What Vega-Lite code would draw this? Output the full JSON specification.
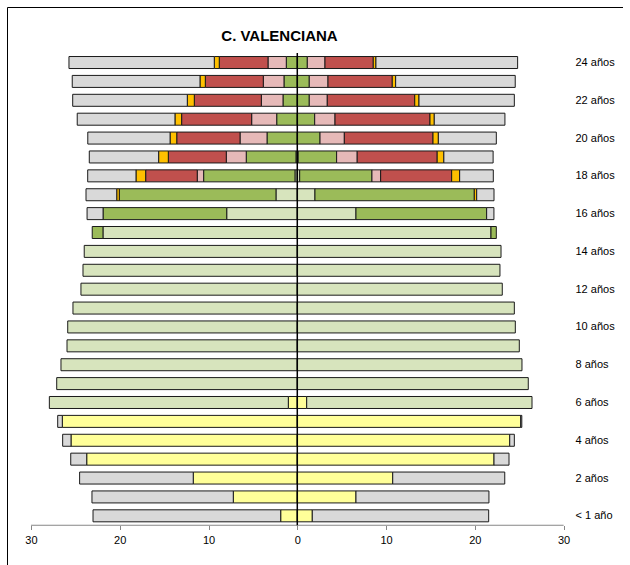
{
  "$schema": "https://vega.github.io/schema/vega-lite/v6.json",
  "usermeta": {"embedOptions": {"actions": false}},
  "width": 616,
  "height": 560,
  "autosize": "none",
  "padding": {"left": 7, "top": 7, "right": 0, "bottom": 0},
  "background": "white",
  "title": {"text": "C. VALENCIANA", "fontSize": 15, "fontWeight": "bold", "font": "Liberation Sans", "color": "#000", "anchor": "middle", "frame": "group", "dx": -35.5, "offset": -49, "baseline": "alphabetic"},
  "config": {"view": {"stroke": "#000", "strokeWidth": 1}, "font": "Liberation Sans"},
  "data": {"values": [
    {"edad": 24, "sexo": "Hombres", "nivel": "ESO", "orden": 3, "valor": -1.24},
    {"edad": 24, "sexo": "Hombres", "nivel": "Bachillerato", "orden": 4, "valor": -2.06},
    {"edad": 24, "sexo": "Hombres", "nivel": "Universidad", "orden": 5, "valor": -5.49},
    {"edad": 24, "sexo": "Hombres", "nivel": "Otros", "orden": 6, "valor": -0.56},
    {"edad": 24, "sexo": "Hombres", "nivel": "No estudia", "orden": 7, "valor": -16.37},
    {"edad": 24, "sexo": "Mujeres", "nivel": "ESO", "orden": 3, "valor": 1.13},
    {"edad": 24, "sexo": "Mujeres", "nivel": "Bachillerato", "orden": 4, "valor": 1.99},
    {"edad": 24, "sexo": "Mujeres", "nivel": "Universidad", "orden": 5, "valor": 5.44},
    {"edad": 24, "sexo": "Mujeres", "nivel": "Otros", "orden": 6, "valor": 0.30},
    {"edad": 24, "sexo": "Mujeres", "nivel": "No estudia", "orden": 7, "valor": 15.96},
    {"edad": 23, "sexo": "Hombres", "nivel": "ESO", "orden": 3, "valor": -1.50},
    {"edad": 23, "sexo": "Hombres", "nivel": "Bachillerato", "orden": 4, "valor": -2.33},
    {"edad": 23, "sexo": "Hombres", "nivel": "Universidad", "orden": 5, "valor": -6.53},
    {"edad": 23, "sexo": "Hombres", "nivel": "Otros", "orden": 6, "valor": -0.60},
    {"edad": 23, "sexo": "Hombres", "nivel": "No estudia", "orden": 7, "valor": -14.39},
    {"edad": 23, "sexo": "Mujeres", "nivel": "ESO", "orden": 3, "valor": 1.35},
    {"edad": 23, "sexo": "Mujeres", "nivel": "Bachillerato", "orden": 4, "valor": 2.11},
    {"edad": 23, "sexo": "Mujeres", "nivel": "Universidad", "orden": 5, "valor": 7.24},
    {"edad": 23, "sexo": "Mujeres", "nivel": "Otros", "orden": 6, "valor": 0.38},
    {"edad": 23, "sexo": "Mujeres", "nivel": "No estudia", "orden": 7, "valor": 13.47},
    {"edad": 22, "sexo": "Hombres", "nivel": "ESO", "orden": 3, "valor": -1.61},
    {"edad": 22, "sexo": "Hombres", "nivel": "Bachillerato", "orden": 4, "valor": -2.44},
    {"edad": 22, "sexo": "Hombres", "nivel": "Universidad", "orden": 5, "valor": -7.55},
    {"edad": 22, "sexo": "Hombres", "nivel": "Otros", "orden": 6, "valor": -0.79},
    {"edad": 22, "sexo": "Hombres", "nivel": "No estudia", "orden": 7, "valor": -12.91},
    {"edad": 22, "sexo": "Mujeres", "nivel": "ESO", "orden": 3, "valor": 1.35},
    {"edad": 22, "sexo": "Mujeres", "nivel": "Bachillerato", "orden": 4, "valor": 2.03},
    {"edad": 22, "sexo": "Mujeres", "nivel": "Universidad", "orden": 5, "valor": 9.85},
    {"edad": 22, "sexo": "Mujeres", "nivel": "Otros", "orden": 6, "valor": 0.48},
    {"edad": 22, "sexo": "Mujeres", "nivel": "No estudia", "orden": 7, "valor": 10.74},
    {"edad": 21, "sexo": "Hombres", "nivel": "ESO", "orden": 3, "valor": -2.32},
    {"edad": 21, "sexo": "Hombres", "nivel": "Bachillerato", "orden": 4, "valor": -2.82},
    {"edad": 21, "sexo": "Hombres", "nivel": "Universidad", "orden": 5, "valor": -7.89},
    {"edad": 21, "sexo": "Hombres", "nivel": "Otros", "orden": 6, "valor": -0.75},
    {"edad": 21, "sexo": "Hombres", "nivel": "No estudia", "orden": 7, "valor": -11.01},
    {"edad": 21, "sexo": "Mujeres", "nivel": "ESO", "orden": 3, "valor": 1.96},
    {"edad": 21, "sexo": "Mujeres", "nivel": "Bachillerato", "orden": 4, "valor": 2.29},
    {"edad": 21, "sexo": "Mujeres", "nivel": "Universidad", "orden": 5, "valor": 10.70},
    {"edad": 21, "sexo": "Mujeres", "nivel": "Otros", "orden": 6, "valor": 0.48},
    {"edad": 21, "sexo": "Mujeres", "nivel": "No estudia", "orden": 7, "valor": 7.96},
    {"edad": 20, "sexo": "Hombres", "nivel": "ESO", "orden": 3, "valor": -3.41},
    {"edad": 20, "sexo": "Hombres", "nivel": "Bachillerato", "orden": 4, "valor": -3.04},
    {"edad": 20, "sexo": "Hombres", "nivel": "Universidad", "orden": 5, "valor": -7.13},
    {"edad": 20, "sexo": "Hombres", "nivel": "Otros", "orden": 6, "valor": -0.75},
    {"edad": 20, "sexo": "Hombres", "nivel": "No estudia", "orden": 7, "valor": -9.27},
    {"edad": 20, "sexo": "Mujeres", "nivel": "ESO", "orden": 3, "valor": 2.56},
    {"edad": 20, "sexo": "Mujeres", "nivel": "Bachillerato", "orden": 4, "valor": 2.74},
    {"edad": 20, "sexo": "Mujeres", "nivel": "Universidad", "orden": 5, "valor": 9.99},
    {"edad": 20, "sexo": "Mujeres", "nivel": "Otros", "orden": 6, "valor": 0.60},
    {"edad": 20, "sexo": "Mujeres", "nivel": "No estudia", "orden": 7, "valor": 6.53},
    {"edad": 19, "sexo": "Hombres", "nivel": "Primaria", "orden": 2, "valor": -0.15},
    {"edad": 19, "sexo": "Hombres", "nivel": "ESO", "orden": 3, "valor": -5.60},
    {"edad": 19, "sexo": "Hombres", "nivel": "Bachillerato", "orden": 4, "valor": -2.25},
    {"edad": 19, "sexo": "Hombres", "nivel": "Universidad", "orden": 5, "valor": -6.53},
    {"edad": 19, "sexo": "Hombres", "nivel": "Otros", "orden": 6, "valor": -1.09},
    {"edad": 19, "sexo": "Hombres", "nivel": "No estudia", "orden": 7, "valor": -7.81},
    {"edad": 19, "sexo": "Mujeres", "nivel": "Primaria", "orden": 2, "valor": 0.10},
    {"edad": 19, "sexo": "Mujeres", "nivel": "ESO", "orden": 3, "valor": 4.33},
    {"edad": 19, "sexo": "Mujeres", "nivel": "Bachillerato", "orden": 4, "valor": 2.32},
    {"edad": 19, "sexo": "Mujeres", "nivel": "Universidad", "orden": 5, "valor": 9.01},
    {"edad": 19, "sexo": "Mujeres", "nivel": "Otros", "orden": 6, "valor": 0.75},
    {"edad": 19, "sexo": "Mujeres", "nivel": "No estudia", "orden": 7, "valor": 5.55},
    {"edad": 18, "sexo": "Hombres", "nivel": "Primaria", "orden": 2, "valor": -0.26},
    {"edad": 18, "sexo": "Hombres", "nivel": "ESO", "orden": 3, "valor": -10.29},
    {"edad": 18, "sexo": "Hombres", "nivel": "Bachillerato", "orden": 4, "valor": -0.72},
    {"edad": 18, "sexo": "Hombres", "nivel": "Universidad", "orden": 5, "valor": -5.81},
    {"edad": 18, "sexo": "Hombres", "nivel": "Otros", "orden": 6, "valor": -1.09},
    {"edad": 18, "sexo": "Hombres", "nivel": "No estudia", "orden": 7, "valor": -5.44},
    {"edad": 18, "sexo": "Mujeres", "nivel": "Primaria", "orden": 2, "valor": 0.27},
    {"edad": 18, "sexo": "Mujeres", "nivel": "ESO", "orden": 3, "valor": 8.14},
    {"edad": 18, "sexo": "Mujeres", "nivel": "Bachillerato", "orden": 4, "valor": 0.98},
    {"edad": 18, "sexo": "Mujeres", "nivel": "Universidad", "orden": 5, "valor": 8.00},
    {"edad": 18, "sexo": "Mujeres", "nivel": "Otros", "orden": 6, "valor": 0.90},
    {"edad": 18, "sexo": "Mujeres", "nivel": "No estudia", "orden": 7, "valor": 3.79},
    {"edad": 17, "sexo": "Hombres", "nivel": "Primaria", "orden": 2, "valor": -2.40},
    {"edad": 17, "sexo": "Hombres", "nivel": "ESO", "orden": 3, "valor": -17.65},
    {"edad": 17, "sexo": "Hombres", "nivel": "Otros", "orden": 6, "valor": -0.29},
    {"edad": 17, "sexo": "Hombres", "nivel": "No estudia", "orden": 7, "valor": -3.46},
    {"edad": 17, "sexo": "Mujeres", "nivel": "Primaria", "orden": 2, "valor": 1.99},
    {"edad": 17, "sexo": "Mujeres", "nivel": "ESO", "orden": 3, "valor": 17.95},
    {"edad": 17, "sexo": "Mujeres", "nivel": "Otros", "orden": 6, "valor": 0.27},
    {"edad": 17, "sexo": "Mujeres", "nivel": "No estudia", "orden": 7, "valor": 1.95},
    {"edad": 16, "sexo": "Hombres", "nivel": "Primaria", "orden": 2, "valor": -7.95},
    {"edad": 16, "sexo": "Hombres", "nivel": "ESO", "orden": 3, "valor": -13.93},
    {"edad": 16, "sexo": "Hombres", "nivel": "No estudia", "orden": 7, "valor": -1.80},
    {"edad": 16, "sexo": "Mujeres", "nivel": "Primaria", "orden": 2, "valor": 6.61},
    {"edad": 16, "sexo": "Mujeres", "nivel": "ESO", "orden": 3, "valor": 14.72},
    {"edad": 16, "sexo": "Mujeres", "nivel": "No estudia", "orden": 7, "valor": 0.82},
    {"edad": 15, "sexo": "Hombres", "nivel": "Primaria", "orden": 2, "valor": -21.89},
    {"edad": 15, "sexo": "Hombres", "nivel": "ESO", "orden": 3, "valor": -1.21},
    {"edad": 15, "sexo": "Mujeres", "nivel": "Primaria", "orden": 2, "valor": 21.82},
    {"edad": 15, "sexo": "Mujeres", "nivel": "ESO", "orden": 3, "valor": 0.60},
    {"edad": 14, "sexo": "Hombres", "nivel": "Primaria", "orden": 2, "valor": -24.00},
    {"edad": 14, "sexo": "Mujeres", "nivel": "Primaria", "orden": 2, "valor": 22.95},
    {"edad": 13, "sexo": "Hombres", "nivel": "Primaria", "orden": 2, "valor": -24.14},
    {"edad": 13, "sexo": "Mujeres", "nivel": "Primaria", "orden": 2, "valor": 22.83},
    {"edad": 12, "sexo": "Hombres", "nivel": "Primaria", "orden": 2, "valor": -24.37},
    {"edad": 12, "sexo": "Mujeres", "nivel": "Primaria", "orden": 2, "valor": 23.09},
    {"edad": 11, "sexo": "Hombres", "nivel": "Primaria", "orden": 2, "valor": -25.27},
    {"edad": 11, "sexo": "Mujeres", "nivel": "Primaria", "orden": 2, "valor": 24.45},
    {"edad": 10, "sexo": "Hombres", "nivel": "Primaria", "orden": 2, "valor": -25.86},
    {"edad": 10, "sexo": "Mujeres", "nivel": "Primaria", "orden": 2, "valor": 24.56},
    {"edad": 9, "sexo": "Hombres", "nivel": "Primaria", "orden": 2, "valor": -25.94},
    {"edad": 9, "sexo": "Mujeres", "nivel": "Primaria", "orden": 2, "valor": 25.01},
    {"edad": 8, "sexo": "Hombres", "nivel": "Primaria", "orden": 2, "valor": -26.62},
    {"edad": 8, "sexo": "Mujeres", "nivel": "Primaria", "orden": 2, "valor": 25.31},
    {"edad": 7, "sexo": "Hombres", "nivel": "Primaria", "orden": 2, "valor": -27.10},
    {"edad": 7, "sexo": "Mujeres", "nivel": "Primaria", "orden": 2, "valor": 26.02},
    {"edad": 6, "sexo": "Hombres", "nivel": "Infantil", "orden": 1, "valor": -1.01},
    {"edad": 6, "sexo": "Hombres", "nivel": "Primaria", "orden": 2, "valor": -26.92},
    {"edad": 6, "sexo": "Mujeres", "nivel": "Infantil", "orden": 1, "valor": 1.06},
    {"edad": 6, "sexo": "Mujeres", "nivel": "Primaria", "orden": 2, "valor": 25.38},
    {"edad": 5, "sexo": "Hombres", "nivel": "Infantil", "orden": 1, "valor": -26.47},
    {"edad": 5, "sexo": "Hombres", "nivel": "No estudia", "orden": 7, "valor": -0.52},
    {"edad": 5, "sexo": "Mujeres", "nivel": "Infantil", "orden": 1, "valor": 25.17},
    {"edad": 5, "sexo": "Mujeres", "nivel": "No estudia", "orden": 7, "valor": 0.12},
    {"edad": 4, "sexo": "Hombres", "nivel": "Infantil", "orden": 1, "valor": -25.49},
    {"edad": 4, "sexo": "Hombres", "nivel": "No estudia", "orden": 7, "valor": -0.94},
    {"edad": 4, "sexo": "Mujeres", "nivel": "Infantil", "orden": 1, "valor": 23.93},
    {"edad": 4, "sexo": "Mujeres", "nivel": "No estudia", "orden": 7, "valor": 0.52},
    {"edad": 3, "sexo": "Hombres", "nivel": "Infantil", "orden": 1, "valor": -23.72},
    {"edad": 3, "sexo": "Hombres", "nivel": "No estudia", "orden": 7, "valor": -1.80},
    {"edad": 3, "sexo": "Mujeres", "nivel": "Infantil", "orden": 1, "valor": 22.16},
    {"edad": 3, "sexo": "Mujeres", "nivel": "No estudia", "orden": 7, "valor": 1.69},
    {"edad": 2, "sexo": "Hombres", "nivel": "Infantil", "orden": 1, "valor": -11.72},
    {"edad": 2, "sexo": "Hombres", "nivel": "No estudia", "orden": 7, "valor": -12.80},
    {"edad": 2, "sexo": "Mujeres", "nivel": "Infantil", "orden": 1, "valor": 10.75},
    {"edad": 2, "sexo": "Mujeres", "nivel": "No estudia", "orden": 7, "valor": 12.62},
    {"edad": 1, "sexo": "Hombres", "nivel": "Infantil", "orden": 1, "valor": -7.21},
    {"edad": 1, "sexo": "Hombres", "nivel": "No estudia", "orden": 7, "valor": -15.92},
    {"edad": 1, "sexo": "Mujeres", "nivel": "Infantil", "orden": 1, "valor": 6.61},
    {"edad": 1, "sexo": "Mujeres", "nivel": "No estudia", "orden": 7, "valor": 14.98},
    {"edad": 0, "sexo": "Hombres", "nivel": "Infantil", "orden": 1, "valor": -1.87},
    {"edad": 0, "sexo": "Hombres", "nivel": "No estudia", "orden": 7, "valor": -21.14},
    {"edad": 0, "sexo": "Mujeres", "nivel": "Infantil", "orden": 1, "valor": 1.69},
    {"edad": 0, "sexo": "Mujeres", "nivel": "No estudia", "orden": 7, "valor": 19.87}
  ]},
  "layer": [
    {
      "mark": {"type": "bar", "orient": "horizontal", "size": 12, "stroke": "#1a1a1a", "strokeWidth": 1},
      "encoding": {
        "y": {"field": "edad", "type": "quantitative", "scale": {"domain": [-2.71, 26.94], "nice": false, "zero": false, "padding": 0},
          "axis": {"orient": "right", "values": [24, 22, 20, 18, 16, 14, 12, 10, 8, 6, 4, 2, 0], "labelExpr": "datum.value == 0 ? '< 1 año' : datum.value + ' años'", "domain": false, "ticks": false, "tickSize": 0, "grid": false, "labelPadding": 0, "offset": -48, "labelFontSize": 11, "labelColor": "#000", "labelFont": "Liberation Sans", "title": null}},
        "x": {"field": "valor", "type": "quantitative", "stack": "zero", "scale": {"domain": [-32.70, 36.69], "nice": false, "zero": false, "padding": 0},
          "axis": {"values": [-30, -20, -10, 0, 10, 20, 30], "labelExpr": "abs(datum.value)", "domain": false, "grid": false, "ticks": true, "tickColor": "#868686", "tickSize": 4, "labelPadding": 5, "offset": -41.5, "labelFontSize": 11, "labelColor": "#000", "labelFont": "Liberation Sans", "title": null}},
        "color": {"field": "nivel", "type": "nominal", "legend": null,
          "scale": {"domain": ["Infantil", "Primaria", "ESO", "Bachillerato", "Universidad", "Otros", "No estudia"], "range": ["#FFFF99", "#D7E4BD", "#9BBB59", "#E6B9B8", "#C0504D", "#FFC000", "#D9D9D9"]}},
        "order": {"field": "orden", "type": "quantitative"}
      }
    },
    {
      "data": {"values": [{}]},
      "mark": {"type": "rule", "color": "#868686", "strokeWidth": 1},
      "encoding": {"x": {"datum": -30}, "x2": {"datum": 30}, "y": {"datum": -0.5}}
    },
    {
      "data": {"values": [{}]},
      "mark": {"type": "rule", "color": "#000", "strokeWidth": 1.5},
      "encoding": {"x": {"datum": 0}, "y": {"datum": -0.5}, "y2": {"datum": 24.5}}
    }
  ]
}
